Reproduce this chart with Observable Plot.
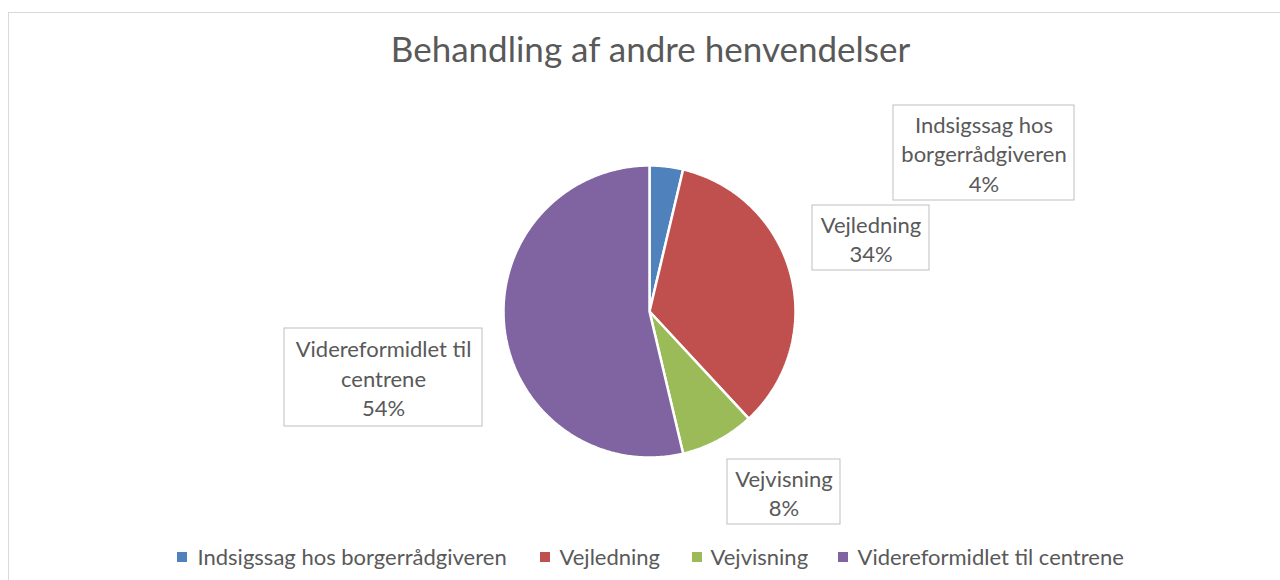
<!DOCTYPE html>
<html><head><meta charset="utf-8">
<script src="https://cdn.jsdelivr.net/npm/d3@7"></script>
<script src="https://cdn.jsdelivr.net/npm/@observablehq/plot@0.6"></script>
<style>
body{margin:0;background:#fff;width:1280px;height:580px;overflow:hidden;position:relative;}
#frame{position:absolute;left:8px;top:12px;width:1300px;height:620px;border:1.5px solid #d9d9d9;box-sizing:border-box;}
#chart{position:absolute;left:0;top:0;}
</style></head><body>
<div id="frame"></div><div id="chart"></div>
<script>
// ---- data ----
const title = "Behandling af andre henvendelser";
const categories = ["Indsigssag hos borgerrådgiveren", "Vejledning", "Vejvisning", "Videreformidlet til centrene"];
const values = [3.7, 34.4, 8.2, 53.7];
const percentLabels = ["4%", "34%", "8%", "54%"];
const labelNames = ["Indsigssag hos\nborgerrådgiveren", "Vejledning", "Vejvisning", "Videreformidlet til\ncentrene"];
const colors = ["#4F81BD", "#C0504D", "#9BBB59", "#8064A2"];

// ---- layout (pixels) ----
const FONT = "Lato, 'Open Sans', sans-serif";
const TEXT = "#595959";
const pie = {cx: 649, cy: 311, r: 146};
const labelBoxes = [
  {x1: 893, x2: 1074, y1: 105, y2: 200},
  {x1: 812, x2: 929, y1: 205, y2: 270},
  {x1: 727, x2: 840, y1: 459, y2: 524},
  {x1: 284, x2: 482, y1: 328, y2: 426}
];
const legendSquareX = [177, 540, 692, 838];
const legendTextX = [197, 559, 710, 857];
const legendY = 557;

// ---- build ----
const arcs = d3.pie().sort(null).startAngle(0).endAngle(2 * Math.PI)(values);
function slicePoints(a) {
  const pts = [{x: pie.cx, y: pie.cy}];
  const n = Math.max(2, Math.ceil((a.endAngle - a.startAngle) / 0.01));
  for (let k = 0; k <= n; k++) {
    const t = a.startAngle + (a.endAngle - a.startAngle) * k / n;
    pts.push({x: pie.cx + pie.r * Math.sin(t), y: pie.cy - pie.r * Math.cos(t)});
  }
  return pts;
}
const labels = categories.map((c, i) => ({
  ...labelBoxes[i],
  cx: (labelBoxes[i].x1 + labelBoxes[i].x2) / 2,
  cy: (labelBoxes[i].y1 + labelBoxes[i].y2) / 2,
  text: labelNames[i] + "\n" + percentLabels[i]
}));
const legend = categories.map((c, i) => ({name: c, color: colors[i], sx: legendSquareX[i], tx: legendTextX[i]}));

const chart = Plot.plot({
  width: 1280, height: 580,
  margin: 0,
  style: {background: "transparent", fontFamily: FONT},
  x: {type: "identity", axis: null},
  y: {type: "identity", axis: null},
  marks: [
    Plot.text([title], {x: 650, y: 50, text: d => d, fontSize: 35, fill: TEXT, fontFamily: FONT}),
    ...arcs.map((a, i) => Plot.line(slicePoints(a), {
      x: "x", y: "y", curve: "linear-closed", fill: colors[i], stroke: "white", strokeWidth: 2.5, strokeLinejoin: "miter"
    })),
    Plot.rect(labels, {x1: "x1", x2: "x2", y1: "y1", y2: "y2", fill: "white", stroke: "#bfbfbf", strokeWidth: 1}),
    Plot.text(labels, {x: "cx", y: "cy", text: "text", fontSize: 22, lineHeight: 1.34, fill: TEXT, fontFamily: FONT}),
    Plot.rect(legend, {x1: d => d.sx, x2: d => d.sx + 10, y1: legendY - 5, y2: legendY + 5, fill: "color"}),
    Plot.text(legend, {x: "tx", y: legendY, text: "name", textAnchor: "start", fontSize: 22, fill: TEXT, fontFamily: FONT})
  ]
});
document.getElementById("chart").appendChild(chart);
</script>
</body></html>
